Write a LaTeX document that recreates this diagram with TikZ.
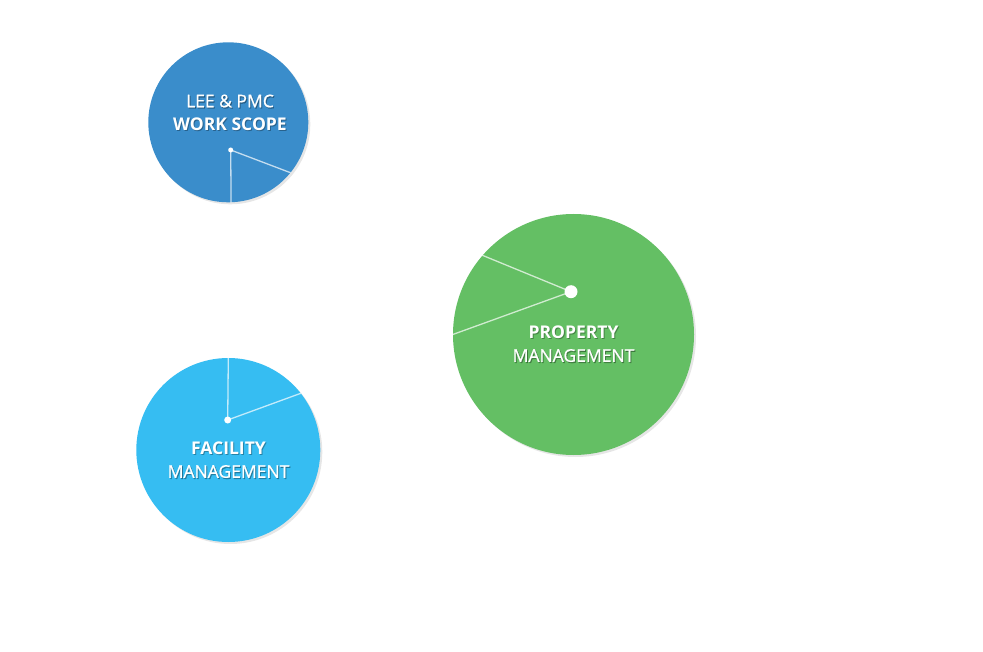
\documentclass[tikz,border=0pt]{standalone}
\usepackage{fontspec}
\setmainfont{Open Sans}[UprightFeatures={FakeBold=0.8}]
\usetikzlibrary{shadows}
\definecolor{scopeblue}{HTML}{3A8DCB}
\definecolor{propgreen}{HTML}{64BF64}
\definecolor{facblue}{HTML}{36BDF2}

% label with a soft dark shadow
\newcommand{\circlabel}[3]{%
  \node[labeltext, text=black, opacity=0.3] at ([shift={(1pt,-1.2pt)}]#1) {#3};
  \node[labeltext] (#2) at (#1) {#3};}

\begin{document}
\begin{tikzpicture}[x=1pt, y=-1pt,
  area/.style={circle, inner sep=0pt, draw=none,
    drop shadow={shadow xshift=2pt, shadow yshift=-2pt, opacity=0.2}},
  hub/.style={circle, fill=white, inner sep=0pt},
  spoke/.style={draw=white, opacity=0.7, line width=1.3pt},
  labeltext/.style={text=white, align=center, inner sep=0pt,
    font=\fontsize{17.5}{23}\selectfont}]
\useasboundingbox (0,0) rectangle (983,652);

% Work scope
\node[area, fill=scopeblue, minimum size=160pt] (scope) at (228.3,122.3) {};
\node[hub, minimum size=5pt] (scopehub) at (230.7,150) {};
\draw[spoke] (scopehub.center) -- (scope.-88);
\draw[spoke] (scopehub.center) -- (scope.-39);
\circlabel{230,112.5}{scopetext}{LEE \& PMC\\\textbf{WORK SCOPE}}

% Property management
\node[area, fill=propgreen, minimum size=241pt] (prop) at (573.5,334.5) {};
\node[hub, minimum size=13pt] (prophub) at (571,291.7) {};
\draw[spoke] (prophub.center) -- (prop.139);
\draw[spoke] (prophub.center) -- (prop.180);
\circlabel{573.5,344}{proptext}{\textbf{PROPERTY}\\MANAGEMENT}

% Facility management
\node[area, fill=facblue, minimum size=184pt] (fac) at (228.3,450) {};
\node[hub, minimum size=7pt] (fachub) at (227.7,420) {};
\draw[spoke] (fachub.center) -- (fac.90);
\draw[spoke] (fachub.center) -- (fac.38);
\circlabel{228.5,460}{factext}{\textbf{FACILITY}\\MANAGEMENT}
\end{tikzpicture}
\end{document}
